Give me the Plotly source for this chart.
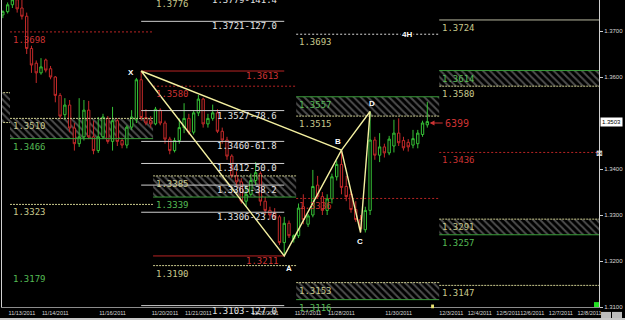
import plotly.graph_objects as go

# ---------------- candle data (4H bars, index = bar number) ----------------
opens = [1.3735,1.3742,1.3757,1.3768,1.3750,1.3732,1.3662,1.3630,1.3609,1.3637,
         1.3618,1.3600,1.3560,1.3518,1.3539,1.3489,1.3455,1.3470,1.3528,1.3470,
         1.3440,1.3470,1.3510,1.3460,1.3505,1.3462,1.3452,1.3491,1.3507,1.3594,
         1.3512,1.3505,1.3498,1.3528,1.3500,1.3465,1.3440,1.3462,1.3490,1.3510,
         1.3480,1.3522,1.3552,1.3498,1.3510,1.3522,1.3482,1.3463,1.3428,1.3385,
         1.3372,1.3330,1.3345,1.3375,1.3390,1.3330,1.3310,1.3305,1.3296,1.3240,
         1.3282,1.3248,1.3255,1.3318,1.3280,1.3300,1.3365,1.3340,1.3310,1.3335,
         1.3383,1.3410,1.3362,1.3345,1.3312,1.3290,1.3268,1.3310,1.3463,1.3430,
         1.3448,1.3435,1.3450,1.3478,1.3462,1.3458,1.3452,1.3455,1.3475,1.3496]
highs = [1.3745,1.3762,1.3775,1.3780,1.3770,1.3740,1.3668,1.3636,1.3641,1.3640,
         1.3624,1.3602,1.3565,1.3554,1.3550,1.3500,1.3554,1.3550,1.3548,1.3505,
         1.3513,1.3520,1.3515,1.3535,1.3510,1.3468,1.3495,1.3528,1.3598,1.3613,
         1.3530,1.3515,1.3535,1.3532,1.3505,1.3470,1.3468,1.3510,1.3543,1.3520,
         1.3528,1.3561,1.3555,1.3520,1.3540,1.3530,1.3490,1.3470,1.3432,1.3395,
         1.3380,1.3365,1.3390,1.3415,1.3395,1.3340,1.3318,1.3315,1.3300,1.3296,
         1.3288,1.3258,1.3325,1.3345,1.3302,1.3398,1.3385,1.3350,1.3345,1.3390,
         1.3418,1.3441,1.3385,1.3352,1.3330,1.3300,1.3318,1.3525,1.3470,1.3478,
         1.3455,1.3472,1.3507,1.3510,1.3470,1.3465,1.3485,1.3485,1.3505,1.3546]
lows = [1.3728,1.3738,1.3750,1.3740,1.3725,1.3650,1.3609,1.3587,1.3605,1.3610,
        1.3595,1.3545,1.3508,1.3507,1.3480,1.3440,1.3448,1.3462,1.3465,1.3432,
        1.3435,1.3465,1.3455,1.3440,1.3450,1.3445,1.3445,1.3485,1.3500,1.3505,
        1.3495,1.3490,1.3495,1.3495,1.3455,1.3432,1.3436,1.3455,1.3478,1.3475,
        1.3475,1.3515,1.3490,1.3490,1.3505,1.3478,1.3455,1.3420,1.3380,1.3360,
        1.3325,1.3318,1.3340,1.3365,1.3320,1.3300,1.3290,1.3290,1.3235,1.3211,
        1.3250,1.3240,1.3250,1.3280,1.3274,1.3295,1.3335,1.3300,1.3300,1.3325,
        1.3375,1.3345,1.3330,1.3305,1.3285,1.3262,1.3262,1.3300,1.3420,1.3415,
        1.3425,1.3430,1.3436,1.3450,1.3440,1.3438,1.3445,1.3445,1.3470,1.3490]
closes = [1.3742,1.3757,1.3768,1.3748,1.3732,1.3662,1.3626,1.3609,1.3622,1.3615,
          1.3600,1.3560,1.3515,1.3539,1.3489,1.3455,1.3470,1.3528,1.3470,1.3440,
          1.3470,1.3513,1.3460,1.3505,1.3460,1.3452,1.3491,1.3513,1.3594,1.3512,
          1.3500,1.3498,1.3530,1.3500,1.3465,1.3440,1.3462,1.3490,1.3510,1.3480,
          1.3522,1.3552,1.3498,1.3510,1.3522,1.3482,1.3463,1.3428,1.3385,1.3372,
          1.3330,1.3345,1.3375,1.3392,1.3330,1.3310,1.3300,1.3296,1.3240,1.3282,
          1.3255,1.3255,1.3315,1.3290,1.3298,1.3362,1.3340,1.3310,1.3335,1.3383,
          1.3410,1.3360,1.3340,1.3312,1.3290,1.3270,1.3310,1.3463,1.3430,1.3448,
          1.3435,1.3465,1.3478,1.3457,1.3446,1.3448,1.3466,1.3478,1.3500,1.3503]
bar_idx = list(range(len(opens)))

# date axis labels (bar index -> text)
date_tick_idx = [4, 11, 23, 34, 41, 55, 64, 71, 83, 94, 100, 106, 111, 117, 123]
date_tick_txt = ["11/13/2011", "11/14/2011", "11/16/2011", "11/20/2011", "11/21/2011",
                 "11/22/2011", "11/27/2011", "11/28/2011", "11/30/2011", "12/3/2011",
                 "12/4/2011", "12/5/2011", "12/6/2011", "12/7/2011", "12/8/2011"]
price_ticks = [1.31, 1.32, 1.33, 1.34, 1.36, 1.37]
last_price = 1.3503

# XABCD pattern pivots
piv_name = ["X", "A", "B", "C", "D"]
piv_idx = [29, 59, 71, 75, 77]
piv_price = [1.3613, 1.3211, 1.3441, 1.3262, 1.3525]

# Fibonacci levels drawn from X to A
fib_price = [1.3779, 1.3721, 1.3527, 1.3460, 1.3412, 1.3365, 1.3306, 1.3103]
fib_ratio = [141.4, 127.0, 78.6, 61.8, 50.0, 38.2, 23.6, 127.0]
fib_start, fib_end = 29, 59

# X / A price lines
xa_price = [1.3613, 1.3211]
xa_start = [29, 31.5]
xa_end = [59, 59]

# weekly supply/demand zones
zone_start = [-10, 1.5, 31.5, 61.5, 61.5, 91.5, 91.5]
zone_end = [1.5, 31.5, 61.5, 91.5, 91.5, 126, 126]
zone_low = [1.3501, 1.3466, 1.3339, 1.3515, 1.3116, 1.3580, 1.3257]
zone_high = [1.3566, 1.3510, 1.3385, 1.3557, 1.3153, 1.3614, 1.3291]
zone_top_kind = ["k", "k", "k", "g", "k", "g", "k"]
zone_bot_kind = ["k", "g", "g", "k", "g", "k", "g"]
zone_labeled = [False, True, True, True, True, True, True]

# weekly single levels
lvl_price = [1.3698, 1.3323, 1.3179, 1.3776, 1.3580, 1.3190, 1.3693, 1.3336, 1.3724, 1.3436, 1.3147]
lvl_start = [1.5, 1.5, 1.5, 31.5, 31.5, 31.5, 61.5, 61.5, 91.5, 91.5, 91.5]
lvl_end = [31.5, 31.5, 31.5, 61.5, 61.5, 61.5, 91.5, 91.5, 126, 126, 126]
lvl_line = ["r", "k", None, "k", "r", "k", "w", "r", "ks", "r", "k"]
lvl_text = ["r", "k", "g", "k", "r", "k", "k", "r", "k", "r", "k"]

Y_RANGE = [1.3100, 1.37674]
X_RANGE = [-0.18, 125]

# ---------------- styles ----------------
RED, RED_T = "#b82424", "#cc3333"
GREEN, GREEN_T = "#3a9e3a", "#55bb55"
KHAKI = "#c8c88c"
WHITE = "#d8d8d8"
TXT = {"r": RED_T, "g": GREEN_T, "k": KHAKI, "w": WHITE}
LINE = {"r": (RED, "2px,2px"), "k": (KHAKI, "2px,1px"), "g": (GREEN, "solid"),
        "w": (WHITE, "2px,2px"), "ks": ("#b8b8a0", "solid")}
MONO = "DejaVu Sans Mono"


def py(p):
    """price -> paper fraction (lets labels beyond the axis range still show)"""
    return (p - Y_RANGE[0]) / (Y_RANGE[1] - Y_RANGE[0])


fig = go.Figure()

# zones (hatched)
fig.add_trace(go.Bar(
    x=[(a + b) / 2 for a, b in zip(zone_start, zone_end)],
    y=[h - l for h, l in zip(zone_high, zone_low)],
    base=zone_low,
    width=[b - a for a, b in zip(zone_start, zone_end)],
    marker=dict(color="rgba(0,0,0,0)", line=dict(width=0),
                pattern=dict(shape="\\", fgcolor="#9a9a9a", bgcolor="rgba(0,0,0,0)",
                             size=5, solidity=0.4, fillmode="overlay")),
    hoverinfo="skip"))

# candles
fig.add_trace(go.Candlestick(
    x=bar_idx, open=opens, high=highs, low=lows, close=closes,
    increasing=dict(line=dict(color="#36c036", width=1), fillcolor="black"),
    decreasing=dict(line=dict(color="#c42a2a", width=1), fillcolor="black"),
    whiskerwidth=0, hoverinfo="skip"))

annotations = []


def hline(x0, x1, y, color, dash, width=1):
    fig.add_trace(go.Scatter(x=[x0, x1], y=[y, y], mode="lines",
                             line=dict(color=color, dash=dash, width=width),
                             hoverinfo="skip"))


def label(x, y, text, color, anchor="left", xs=1, ys=-1, size=9):
    annotations.append(dict(x=x, y=py(y), xref="x", yref="paper", text=text, showarrow=False,
                            xanchor=anchor, yanchor="top", xshift=xs, yshift=ys,
                            font=dict(family=MONO, size=size, color=color)))


# zone borders and labels
for s, e, lo, hi, tk, bk, lab in zip(zone_start, zone_end, zone_low, zone_high,
                                      zone_top_kind, zone_bot_kind, zone_labeled):
    hline(s, e, hi, *LINE[tk])
    hline(s, e, lo, *LINE[bk])
    if lab:
        label(s, hi, f"{hi:.4f}", TXT[tk])
        label(s, lo, f"{lo:.4f}", TXT[bk])

# single levels
for p, s, e, lk, tk in zip(lvl_price, lvl_start, lvl_end, lvl_line, lvl_text):
    if lk:
        hline(s, e, p, *LINE[lk])
    label(s, p, f"{p:.4f}", TXT[tk])

# fib levels
for p, r in zip(fib_price, fib_ratio):
    hline(fib_start, fib_end, p, "#cfcfcf", "solid")
    label(fib_end, p, f"{p:.4f}-{r:.1f}", "#e4e4e4", anchor="right", xs=-5, ys=2)

# X/A lines
for p, s, e in zip(xa_price, xa_start, xa_end):
    hline(s, e, p, RED, "solid")
    label(e, p, f"{p:.4f}", RED_T, anchor="right", xs=-3, ys=2)

# pattern triangles XAB and BCD
path = [0, 1, 2, 0, None, 2, 3, 4, 2]
fig.add_trace(go.Scatter(
    x=[piv_idx[k] if k is not None else None for k in path],
    y=[piv_price[k] if k is not None else None for k in path],
    mode="lines", line=dict(color="#f4f0a0", width=1.4), hoverinfo="skip"))

piv_off = {"X": (-10, -1), "A": (5, -13), "B": (-3, 9), "C": (-1, -9), "D": (2, 8)}
for n, i, p in zip(piv_name, piv_idx, piv_price):
    dx, dy = piv_off[n]
    annotations.append(dict(x=i, y=p, text=f"<b>{n}</b>", showarrow=False,
                            xshift=dx, yshift=dy,
                            font=dict(family="Liberation Sans", size=8, color="white")))

# 4H label
annotations.append(dict(x=84.7, y=1.3693, text="<b>4H</b>", showarrow=False,
                        font=dict(family="Liberation Sans", size=8, color="white"),
                        bgcolor="black"))
# current price arrow
annotations.append(dict(x=bar_idx[-1] + 0.5, y=1.3500, text="6399", showarrow=True,
                        ax=13, ay=0, xanchor="left", arrowcolor=RED_T, arrowhead=2,
                        arrowsize=0.8, arrowwidth=1.2,
                        font=dict(family=MONO, size=10, color=RED_T)))
# price box on axis
annotations.append(dict(x=1, y=last_price, xref="paper", yref="y", text=f"{last_price:.4f}",
                        showarrow=False, xanchor="left", xshift=1, bgcolor="white",
                        borderpad=1, font=dict(family="Liberation Sans", size=6, color="black")))
annotations.append(dict(x=1, y=1.3436, xref="paper", yref="y", text="⊠", showarrow=False,
                        xanchor="center", font=dict(size=8, color="white")))

fig.update_layout(
    width=625, height=320, margin=dict(l=2, r=26, t=0, b=13),
    paper_bgcolor="black", plot_bgcolor="black", showlegend=False,
    barmode="overlay", annotations=annotations,
    xaxis=dict(range=X_RANGE, showgrid=False, zeroline=False,
               rangeslider=dict(visible=False), tickmode="array",
               tickvals=date_tick_idx, ticktext=date_tick_txt, tickangle=0,
               tickfont=dict(family="Liberation Sans", size=5.5, color="#d8d8d8"),
               showline=True, linecolor="#8c8c8c", linewidth=1, ticks=""),
    yaxis=dict(side="right", range=Y_RANGE, showgrid=False, zeroline=False,
               tickmode="array", tickvals=price_ticks,
               ticktext=[f"{v:.4f}" for v in price_ticks],
               ticks="outside", ticklen=3, tickcolor="#d0d0d0",
               tickfont=dict(family="Liberation Sans", size=6, color="#d8d8d8"),
               showline=True, mirror=True, linecolor="#d0d0d0", linewidth=1),
    shapes=[
        dict(type="rect", xref="paper", yref="paper", x0=0.9916, x1=1.0, y0=0, y1=0.016,
             fillcolor="#22dd22", line=dict(width=0)),
        dict(type="rect", xref="x", yref="paper", x0=89.8, x1=90.4, y0=-0.004, y1=0.008,
             fillcolor="#e8e070", line=dict(width=0)),
        dict(type="rect", xref="paper", yref="paper", x0=1.0034, x1=1.0201, y0=-0.039, y1=-0.016,
             fillcolor="#bdbdbd", line=dict(width=0)),
        dict(type="rect", xref="paper", yref="paper", x0=1.0218, x1=1.0385, y0=-0.039, y1=-0.016,
             fillcolor="#bdbdbd", line=dict(width=0)),
        dict(type="rect", xref="paper", yref="paper", x0=-0.01, x1=1.05, y0=-0.0423, y1=-0.0358,
             fillcolor="#c8c8c8", line=dict(width=0)),
    ],
)

fig.write_html("out.html")
